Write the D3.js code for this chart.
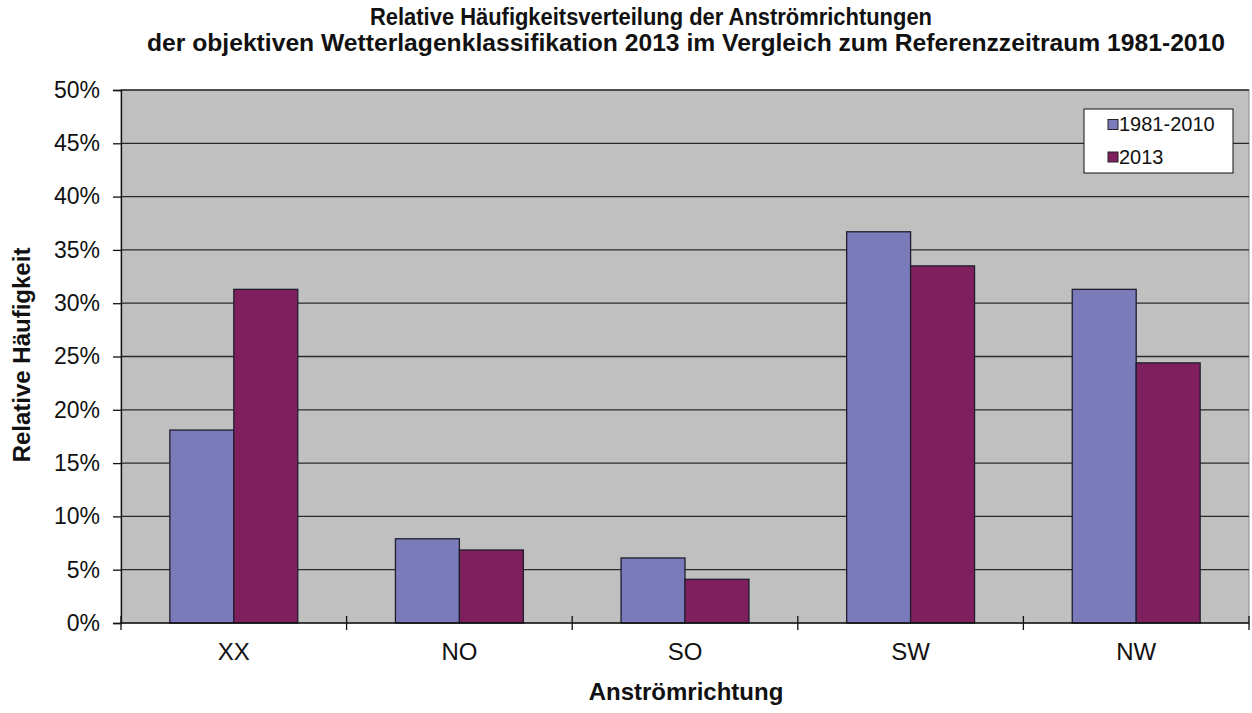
<!DOCTYPE html>
<html>
<head>
<meta charset="utf-8">
<script src="https://cdn.jsdelivr.net/npm/d3@7"></script>
<style>
  body { margin: 0; background: #fff; }
  text { font-family: "Liberation Sans", Arial, sans-serif; fill: #111; }
</style>
</head>
<body>
<svg id="vis"></svg>
<script>
// chart data
const categories = ["XX", "NO", "SO", "SW", "NW"];
const seriesNames = ["1981-2010", "2013"];
const reference = [18.1, 7.9, 6.1, 36.7, 31.3];
const year2013 = [31.3, 6.85, 4.1, 33.5, 24.4];
const yTicks = [0, 5, 10, 15, 20, 25, 30, 35, 40, 45, 50];

let config = { svg: {}, plot: {}, legend: {} };
config.svg.width = 1252;
config.svg.height = 713;
config.plot.x = 121;
config.plot.y = 90;
config.plot.width = 1128;
config.plot.height = 533;
config.legend.x = 1084;
config.legend.y = 109;
config.legend.width = 149;
config.legend.height = 64;

const colors = ["#7b7bbb", "#801f5e"];

const svg = d3.select("svg#vis")
  .attr("width", config.svg.width)
  .attr("height", config.svg.height);

let scale = {};
scale.x = d3.scaleBand()
  .domain(categories)
  .range([0, config.plot.width])
  .paddingInner(0)
  .paddingOuter(0);
scale.y = d3.scaleLinear()
  .domain([0, 50])
  .range([config.plot.height, 0]);

// bars occupy 128/225.6 of each band, centered
let barGroupRatio = 0.567;
scale.inner = d3.scaleBand()
  .domain(seriesNames)
  .range([0, scale.x.bandwidth() * barGroupRatio]);

let plot = svg.append("g")
  .attr("transform", translate(config.plot.x, config.plot.y));

plot.append("rect")
  .attr("width", config.plot.width)
  .attr("height", config.plot.height)
  .attr("fill", "#c0c0c0")
  .attr("stroke", "#8a8a8a")
  .attr("stroke-width", 1);

// gridlines
plot.selectAll("line.grid")
  .data(yTicks.filter(d => d > 0))
  .enter()
  .append("line")
  .attr("class", "grid")
  .attr("x1", 0)
  .attr("x2", config.plot.width)
  .attr("y1", d => scale.y(d))
  .attr("y2", d => scale.y(d))
  .attr("stroke", "#2a2a2a")
  .attr("stroke-width", 1.3);

// bars
let rows = categories.map((c, i) => ({ cat: c, values: [reference[i], year2013[i]] }));
let offset = scale.x.bandwidth() * (1 - barGroupRatio) / 2;

let groups = plot.selectAll("g.cat")
  .data(rows)
  .enter()
  .append("g")
  .attr("transform", d => translate(scale.x(d.cat) + offset, 0));

groups.selectAll("rect")
  .data(d => d.values.map((v, j) => ({ name: seriesNames[j], value: v, idx: j })))
  .enter()
  .append("rect")
  .attr("x", d => scale.inner(d.name))
  .attr("y", d => scale.y(d.value))
  .attr("width", scale.inner.bandwidth())
  .attr("height", d => config.plot.height - scale.y(d.value))
  .attr("fill", d => colors[d.idx])
  .attr("stroke", "#1e1e2e")
  .attr("stroke-width", 1.3);

// y axis
let axisY = d3.axisLeft(scale.y)
  .tickValues(yTicks)
  .tickFormat(d => d + "%")
  .tickSize(8)
  .tickPadding(13);

let gy = svg.append("g")
  .attr("transform", translate(config.plot.x, config.plot.y))
  .call(axisY);
gy.select(".domain").attr("stroke", "#111").attr("stroke-width", 1.3);
gy.selectAll(".tick line").attr("stroke", "#111").attr("stroke-width", 1.3);
gy.selectAll(".tick text")
  .attr("font-size", "23px")
  .attr("font-family", "Liberation Sans, Arial, sans-serif")
  .attr("fill", "#111");

// x axis line and crossing ticks at band edges
let gx = svg.append("g")
  .attr("transform", translate(config.plot.x, config.plot.y + config.plot.height));
gx.append("line")
  .attr("x1", 0).attr("x2", config.plot.width)
  .attr("stroke", "#111").attr("stroke-width", 1.3);
let edges = categories.map(c => scale.x(c)).concat([config.plot.width]);
gx.selectAll("line.tick")
  .data(edges)
  .enter()
  .append("line")
  .attr("class", "tick")
  .attr("x1", d => d).attr("x2", d => d)
  .attr("y1", -7).attr("y2", 7)
  .attr("stroke", "#111").attr("stroke-width", 1.3);
gx.selectAll("text")
  .data(categories)
  .enter()
  .append("text")
  .attr("x", d => scale.x(d) + scale.x.bandwidth() / 2)
  .attr("y", 37)
  .attr("text-anchor", "middle")
  .attr("font-size", "24px")
  .text(d => d);

drawTitles();
drawLegend();

function drawTitles() {
  svg.append("text")
    .attr("x", 651)
    .attr("y", 25)
    .attr("text-anchor", "middle")
    .attr("font-size", "23px")
    .attr("font-weight", "bold")
    .attr("textLength", 562)
    .attr("lengthAdjust", "spacingAndGlyphs")
    .text("Relative Häufigkeitsverteilung der Anströmrichtungen");

  svg.append("text")
    .attr("x", 686)
    .attr("y", 51)
    .attr("text-anchor", "middle")
    .attr("font-size", "23px")
    .attr("font-weight", "bold")
    .attr("textLength", 1078)
    .attr("lengthAdjust", "spacingAndGlyphs")
    .text("der objektiven Wetterlagenklassifikation 2013 im Vergleich zum Referenzzeitraum 1981-2010");

  svg.append("text")
    .attr("x", 686)
    .attr("y", 700)
    .attr("text-anchor", "middle")
    .attr("font-size", "24px")
    .attr("font-weight", "bold")
    .text("Anströmrichtung");

  svg.append("text")
    .attr("transform", translate(30, 355) + " rotate(-90)")
    .attr("text-anchor", "middle")
    .attr("font-size", "24px")
    .attr("font-weight", "bold")
    .text("Relative Häufigkeit");
}

function drawLegend() {
  let legend = svg.append("g")
    .attr("transform", translate(config.legend.x, config.legend.y));

  legend.append("rect")
    .attr("width", config.legend.width)
    .attr("height", config.legend.height)
    .attr("fill", "#fff")
    .attr("stroke", "#111")
    .attr("stroke-width", 1);

  let items = legend.selectAll("g.item")
    .data(seriesNames)
    .enter()
    .append("g")
    .attr("transform", (d, i) => translate(24, 10.5 + i * 32.5));

  items.append("rect")
    .attr("width", 10)
    .attr("height", 10)
    .attr("fill", (d, i) => colors[i])
    .attr("stroke", "#222")
    .attr("stroke-width", 1);

  items.append("text")
    .attr("x", 11)
    .attr("y", 11.5)
    .attr("font-size", "20px")
    .text(d => d);
}

function translate(x, y) {
  return "translate(" + x + "," + y + ")";
}
</script>
</body>
</html>
